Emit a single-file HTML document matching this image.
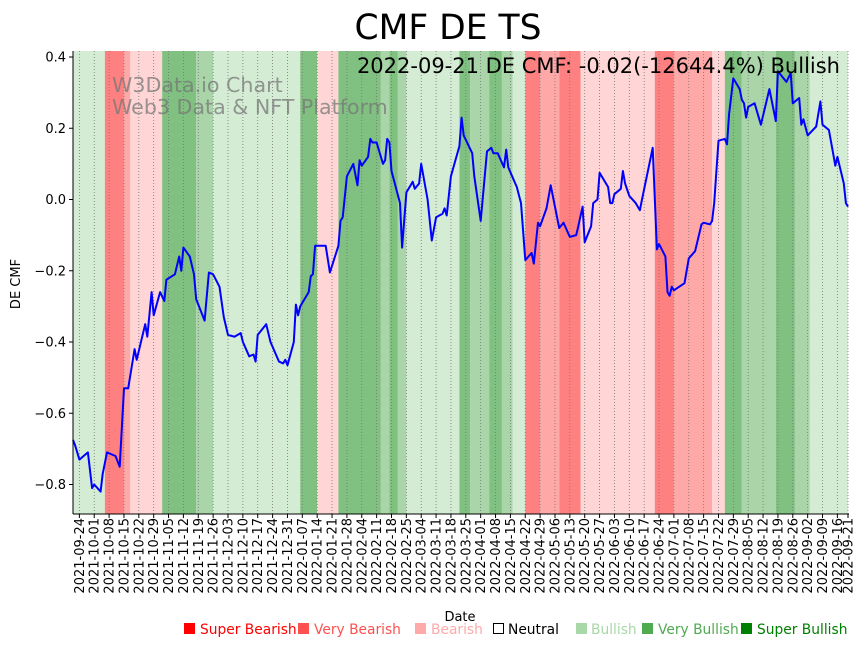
<!DOCTYPE html>
<html><head><meta charset="utf-8"><style>
body{margin:0;background:#fff;}
svg text{font-family:"DejaVu Sans","Liberation Sans",sans-serif;}
</style></head><body>
<svg id="chart" width="867" height="646" viewBox="0 0 867 646" xmlns="http://www.w3.org/2000/svg">
<text x="448" y="39" font-size="34.5" text-anchor="middle">CMF DE TS</text>
<g id="bands"></g><g id="grid"></g>
<text x="112" y="92" font-size="20.6" fill="#777" fill-opacity="0.75">W3Data.io Chart</text>
<text x="112" y="114" font-size="20.6" fill="#777" fill-opacity="0.75">Web3 Data &amp; NFT Platform</text>
<g id="line"></g>
<text x="840" y="73" font-size="21" text-anchor="end">2022-09-21 DE CMF: -0.02(-12644.4%) Bullish</text>
<line x1="73" y1="51" x2="73" y2="514" stroke="#000" stroke-width="1"/>
<line x1="73" y1="514" x2="849" y2="514" stroke="#000" stroke-width="1"/>
<g id="yticks"></g><g id="xticks"></g>
<text transform="translate(20,284) rotate(-90)" font-size="13" text-anchor="middle">DE CMF</text>
<text x="460" y="621" font-size="13" text-anchor="middle">Date</text>
<g font-size="13.8">
<g><rect x="184" y="623" width="11" height="11" fill="#ff0000"/><text x="200" y="634" fill="#ff0000">Super Bearish</text></g>
<g><rect x="298" y="623" width="11" height="11" fill="#ff5050"/><text x="314" y="634" fill="#ff5050">Very Bearish</text></g>
<g><rect x="415" y="623" width="11" height="11" fill="#ffaaaa"/><text x="431" y="634" fill="#ffaaaa">Bearish</text></g>
<g><rect x="493.5" y="623.5" width="10" height="10" fill="none" stroke="#000"/><text x="508" y="634" fill="#000">Neutral</text></g>
<g><rect x="576" y="623" width="11" height="11" fill="#a8d8a8"/><text x="591" y="634" fill="#a8d8a8">Bullish</text></g>
<g><rect x="642" y="623" width="11" height="11" fill="#50aa50"/><text x="658" y="634" fill="#50aa50">Very Bullish</text></g>
<g><rect x="741" y="623" width="11" height="11" fill="#008000"/><text x="757" y="634" fill="#008000">Super Bullish</text></g>
</g>
</svg>
<script>
// day offsets from 2021-09-21
const days=[0,1,3,7,9,10,13,14,16,20,22,24,26,29,30,34,35,37,38,41,43,44,48,50,51,52,55,57,58,62,64,66,69,71,73,76,79,80,83,85,86,87,91,93,97,99,100,101,104,105,106,107,111,112,113,114,119,121,125,126,127,129,132,134,135,136,139,140,141,143,146,147,148,149,150,154,155,157,160,161,163,164,167,169,171,174,175,176,178,182,183,184,188,189,192,195,197,198,200,203,204,205,209,211,213,216,217,219,220,223,225,229,231,234,237,238,240,241,244,245,247,248,252,253,254,255,258,259,260,262,265,267,268,273,275,276,279,280,281,282,283,288,290,293,296,297,300,301,302,304,307,308,309,311,314,315,316,317,318,321,324,328,331,332,336,338,339,342,343,344,346,350,352,353,356,358,359,360,363,364,365];
const cmf=[-0.675,-0.69,-0.73,-0.71,-0.81,-0.80,-0.82,-0.77,-0.71,-0.72,-0.75,-0.53,-0.53,-0.42,-0.45,-0.35,-0.385,-0.26,-0.325,-0.26,-0.285,-0.225,-0.21,-0.16,-0.2,-0.135,-0.16,-0.21,-0.28,-0.34,-0.205,-0.21,-0.245,-0.33,-0.38,-0.385,-0.375,-0.40,-0.44,-0.435,-0.455,-0.38,-0.35,-0.40,-0.455,-0.46,-0.45,-0.465,-0.40,-0.295,-0.325,-0.30,-0.26,-0.215,-0.21,-0.13,-0.13,-0.205,-0.13,-0.06,-0.05,0.065,0.10,0.04,0.11,0.095,0.12,0.17,0.16,0.16,0.10,0.11,0.17,0.16,0.08,-0.01,-0.135,0.02,0.05,0.03,0.045,0.10,0.0,-0.115,-0.05,-0.04,-0.025,-0.045,0.065,0.15,0.23,0.18,0.13,0.065,-0.06,0.135,0.145,0.13,0.13,0.09,0.14,0.09,0.035,-0.01,-0.17,-0.15,-0.18,-0.065,-0.075,-0.025,0.04,-0.08,-0.065,-0.105,-0.10,-0.075,-0.02,-0.12,-0.075,-0.01,0.0,0.075,0.035,-0.01,-0.01,0.015,0.03,0.08,0.045,0.01,-0.01,-0.03,0.0,0.145,-0.14,-0.125,-0.16,-0.26,-0.27,-0.245,-0.255,-0.235,-0.165,-0.145,-0.07,-0.065,-0.07,-0.06,-0.01,0.165,0.17,0.155,0.24,0.34,0.31,0.28,0.27,0.23,0.26,0.27,0.21,0.31,0.22,0.36,0.33,0.355,0.27,0.285,0.21,0.225,0.18,0.205,0.275,0.21,0.195,0.13,0.095,0.12,0.045,-0.01,-0.02];
const bandStart=[0,15,24,27,42,58,66,107,115,125,145,149,153,157,182,187,196,202,207,213,220,229,239,274,283,301,307,315,331,340,347];
const bandEnd=[15,24,27,42,58,66,107,115,125,145,149,153,157,182,187,196,202,207,213,220,229,239,274,283,301,307,315,331,340,347,365];
const bandType=["LG","R","MR","P","G","ML","LG","G","P","G","ML","G","ML","LG","G","ML","G","ML","LG","R","MR","R","P","R","MR","P","G","ML","G","ML","LG"];
const yTicks=[0.4,0.2,0.0,-0.2,-0.4,-0.6,-0.8];
const yTickLabels=["0.4","0.2","0.0","\u22120.2","\u22120.4","\u22120.6","\u22120.8"];
const xTickDays=[];for(let d=3;d<=365;d+=7)xTickDays.push(d);
xTickDays.push(365);

const NS="http://www.w3.org/2000/svg";
const X0=73,X1=848,T0=0,T1=365,YT=51,YB=514;
function xs(d){return X0+(d-T0)*(X1-X0)/(T1-T0);}
function ys(v){return 199.5-v*356.25;}
const colors={LG:"#d4ebd4",ML:"#a9d5a9",G:"#80c080",P:"#ffd5d5",MR:"#ffa8a8",R:"#ff8080"};
function mk(t,a,p){const e=document.createElementNS(NS,t);for(const k in a)e.setAttribute(k,a[k]);p.appendChild(e);return e;}
const gb=document.getElementById('bands');
bandStart.forEach((s,i)=>{
 const r=mk('rect',{x:xs(s),y:YT,width:xs(bandEnd[i])-xs(s),height:YB-YT,fill:colors[bandType[i]]},gb);
 
 
});
const base=new Date(Date.UTC(2021,8,21));
function fmt(d){const t=new Date(base.getTime()+d*86400000);return t.toISOString().slice(0,10);}
const gg=document.getElementById('grid'),gx=document.getElementById('xticks');
xTickDays.forEach(d=>{
 const x=xs(d);
 const l=mk('line',{x1:x,y1:YT,x2:x,y2:YB,stroke:"#777","stroke-width":0.8,"stroke-dasharray":"1,2"},gg);
 
 
 mk('line',{x1:x,y1:YB,x2:x,y2:YB+4,stroke:"#000"},gx);
 const t=mk('text',{transform:`translate(${x+4.5},518) rotate(-90)`,"font-size":"13","text-anchor":"end"},gx);
 
 
 t.textContent=fmt(d);
});
const gy=document.getElementById('yticks');
yTicks.forEach((v,i)=>{
 const y=ys(v);
 mk('line',{x1:69,y1:y,x2:73,y2:y,stroke:"#000"},gy);
 const t=mk('text',{x:66,y:y+4.5,"font-size":"13","text-anchor":"end"},gy);
 
 
 t.textContent=yTickLabels[i];
});
const pts=days.map((d,i)=>xs(d).toFixed(1)+","+ys(cmf[i]).toFixed(1)).join(" ");
const pl=mk('polyline',{points:pts,fill:"none",stroke:"#0000ff","stroke-width":2,"stroke-linejoin":"round"},document.getElementById('line'));


</script>
</body></html>
